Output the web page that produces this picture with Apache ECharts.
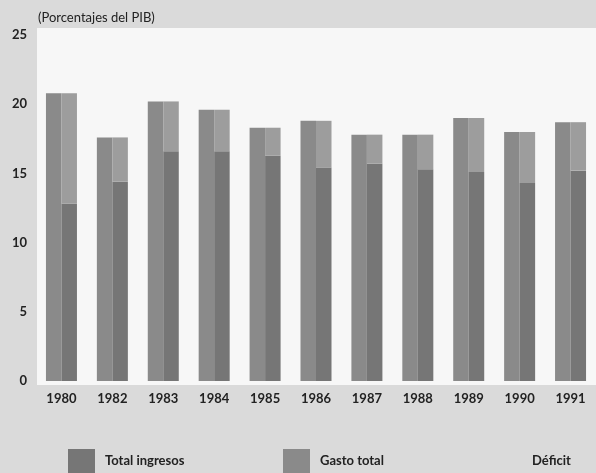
<!DOCTYPE html>
<html>
<head>
<meta charset="utf-8">
<script src="https://cdn.jsdelivr.net/npm/echarts@6/dist/echarts.min.js"></script>
<style>
html,body{margin:0;padding:0;background:#dadada;}
#chart{width:596px;height:473px;}
</style>
</head>
<body>
<div id="chart"></div>
<script>
var years = ['1980','1982','1983','1984','1985','1986','1987','1988','1989','1990','1991'];
var gastoTotal = [20.8, 17.6, 20.2, 19.6, 18.3, 18.8, 17.8, 17.8, 19.0, 18.0, 18.7];
var totalIngresos = [12.8, 14.4, 16.6, 16.6, 16.3, 15.4, 15.7, 15.3, 15.1, 14.3, 15.2];
var deficit = gastoTotal.map(function(g, i){ return +(g - totalIngresos[i]).toFixed(2); });
var yTicks = [0, 5, 10, 15, 20, 25];
var unitText = '(Porcentajes del PIB)';

var FONT = 'Lato, "Open Sans", sans-serif';
var chart = echarts.init(document.getElementById('chart'));
chart.setOption({
  backgroundColor: '#dadada',
  animation: false,
  graphic: [{
    type: 'rect', z: -10, silent: true,
    shape: {x: 37, y: 28, width: 560, height: 357},
    style: {fill: '#f7f7f7'}
  }],
  grid: {left: 36, top: 35, width: 566, bottom: 92, containLabel: false},
  legend: [
    {data: ['Total ingresos'], left: 68, top: 449, padding: 0, itemWidth: 27, itemHeight: 24, icon: 'rect',
     textStyle: {fontFamily: FONT, fontWeight: 'bold', fontSize: 13, color: '#222', padding: [2,0,0,5]}},
    {data: ['Gasto total'], left: 283, top: 449, padding: 0, itemWidth: 27, itemHeight: 24, icon: 'rect',
     textStyle: {fontFamily: FONT, fontWeight: 'bold', fontSize: 13, color: '#222', padding: [2,0,0,5]}},
    {data: [{name: 'Déficit', icon: 'none'}], left: 495, top: 449, padding: 0, itemWidth: 27, itemHeight: 24,
     textStyle: {fontFamily: FONT, fontWeight: 'bold', fontSize: 13, color: '#222', padding: [2,0,0,5]}}
  ],
  xAxis: {
    type: 'category', data: years,
    axisLine: {show: false}, axisTick: {show: false},
    axisLabel: {fontFamily: FONT, fontWeight: 'bold', fontSize: 13, color: '#222', margin: 11}
  },
  yAxis: {
    type: 'value', min: 0, max: 25, interval: 5,
    name: unitText, nameLocation: 'end', nameGap: 11,
    nameTextStyle: {fontFamily: FONT, fontWeight: 'normal', fontSize: 13, color: '#222', align: 'left', padding: [0,0,0,2]},
    axisLine: {show: false}, axisTick: {show: false}, splitLine: {show: false},
    axisLabel: {fontFamily: FONT, fontWeight: 'bold', fontSize: 13, color: '#222', margin: 9,
      formatter: function(v){ return yTicks.indexOf(v) >= 0 ? String(v) : ''; }}
  },
  series: [
    {name: 'Gasto total', type: 'bar', data: gastoTotal, barWidth: 15.5, barGap: '0%',
     itemStyle: {color: '#8a8a8a'}},
    {name: 'Total ingresos', type: 'bar', stack: 'r', data: totalIngresos, barWidth: 15.5,
     itemStyle: {color: '#767676'}},
    {name: 'Déficit', type: 'bar', stack: 'r', data: deficit, barWidth: 15.5,
     itemStyle: {color: '#9d9d9d'}}
  ]
});
</script>
</body>
</html>
